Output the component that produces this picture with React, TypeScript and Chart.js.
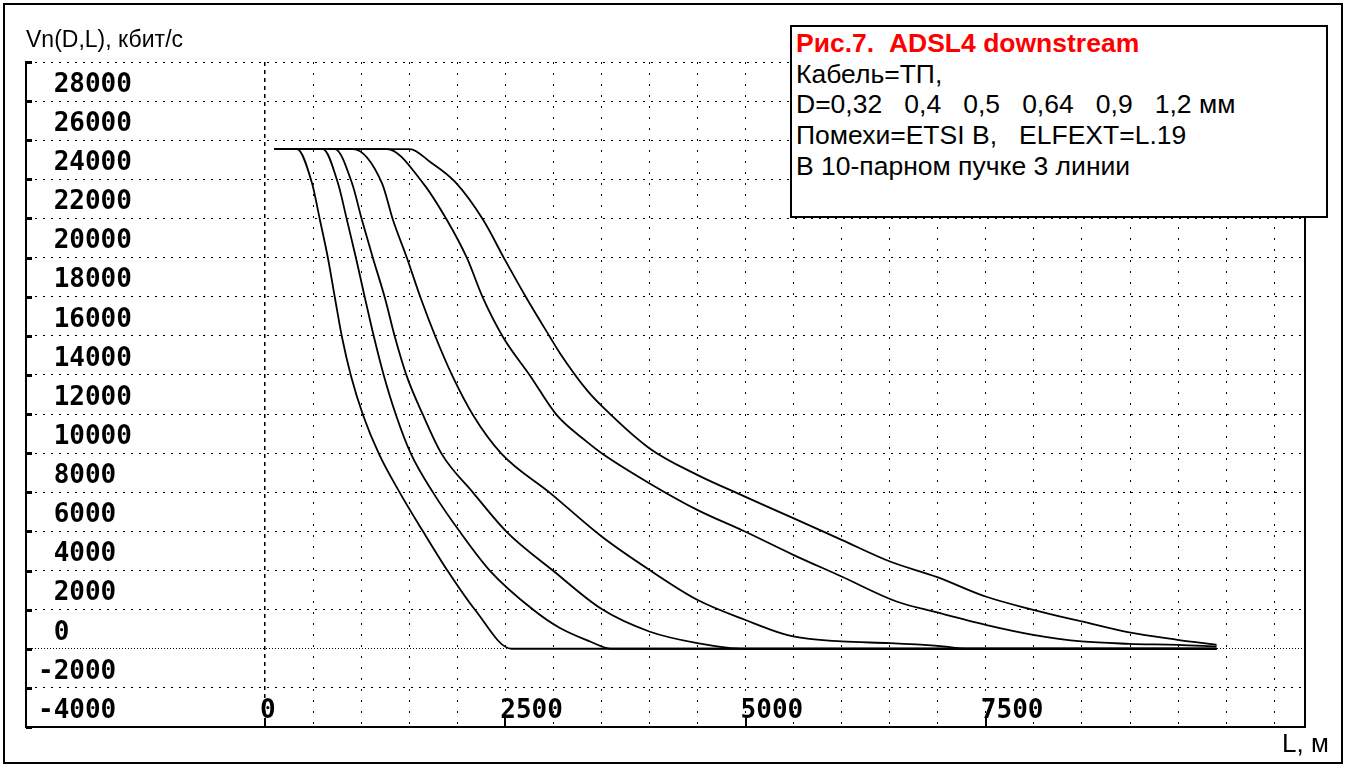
import React, { useEffect, useRef } from 'react';
import { Chart, registerables } from 'chart.js';

Chart.register(...registerables);

// ---- Axis ranges / ticks ----
const X_MIN = -2486;
const X_MAX = 10820;
const Y_MIN = -4000;
const Y_MAX = 30000;

const xGrid = [0, 500, 1000, 1500, 2000, 2500, 3000, 3500, 4000, 4500, 5000, 5500, 6000, 6500, 7000, 7500, 8000, 8500, 9000, 9500, 10000, 10500];
const xTickLabels = ['0', '', '', '', '', '2500', '', '', '', '', '5000', '', '', '', '', '7500', '', '', '', '', '', ''];

const yGrid = [-4000, -2000, 0, 2000, 4000, 6000, 8000, 10000, 12000, 14000, 16000, 18000, 20000, 22000, 24000, 26000, 28000, 30000];
const yTickLabels = ['-4000', '-2000', '0', '2000', '4000', '6000', '8000', '10000', '12000', '14000', '16000', '18000', '20000', '22000', '24000', '26000', '28000', ''];

// ---- Series: L (m) and Vn (kbit/s) for each diameter ----
const L_032 = [100, 333, 489, 572, 655, 728, 801, 895, 1020, 1186, 1404, 1647, 1900, 2185, 2566, 9900];
const V_032 = [25550, 25550, 23810, 21920, 19980, 17935, 15940, 13950, 11955, 9964, 7971, 5978, 3986, 1993, 0, 0];

const L_040 = [100, 603, 759, 853, 947, 1040, 1134, 1238, 1363, 1519, 1751, 2028, 2341, 2791, 3069, 3381, 3600, 9900];
const V_040 = [25550, 25550, 23810, 21920, 19980, 17935, 15940, 13950, 11955, 9964, 7971, 5978, 3986, 1993, 1058, 373, 0, 0];

const L_050 = [100, 728, 905, 1009, 1123, 1248, 1352, 1474, 1644, 1838, 2167, 2514, 2999, 3503, 3998, 4497, 4993, 9900];
const V_050 = [25550, 25550, 23810, 21920, 19980, 17935, 15940, 13950, 11955, 9964, 7971, 5978, 3986, 2028, 884, 291, 0, 0];

const L_064 = [100, 915, 1217, 1332, 1477, 1620, 1775, 1950, 2164, 2462, 2965, 3503, 3998, 4497, 4993, 5496, 5999, 6502, 7000, 7320, 9900];
const V_064 = [25550, 25550, 23810, 21920, 19980, 17935, 15940, 13950, 11955, 9964, 7971, 5738, 4037, 2504, 1482, 628, 373, 291, 150, 0, 0];

const L_090 = [100, 1269, 1644, 1893, 2101, 2268, 2476, 2760, 3034, 3347, 3503, 3998, 4497, 4993, 5496, 5999, 6571, 6994, 7497, 7992, 8496, 8991, 9494, 9900];
const V_090 = [25550, 25550, 23810, 21920, 19980, 17935, 15940, 13950, 11955, 10592, 9999, 8467, 7102, 5994, 4803, 3694, 2417, 1855, 1226, 715, 373, 255, 204, 120];

const L_120 = [100, 1508, 1716, 1976, 2271, 2497, 2722, 2965, 3069, 3347, 3503, 3998, 4497, 4993, 5496, 5999, 6502, 6994, 7497, 7992, 8496, 8991, 9494, 9900];
const V_120 = [25550, 25550, 24900, 23880, 21920, 19880, 17920, 15940, 15110, 13234, 12416, 10255, 8891, 7782, 6678, 5569, 4461, 3664, 2672, 1993, 1395, 833, 460, 204];

const seriesNames = ['0,32', '0,4', '0,5', '0,64', '0,9', '1,2'];
const seriesL = [L_032, L_040, L_050, L_064, L_090, L_120];
const seriesV = [V_032, V_040, V_050, V_064, V_090, V_120];

const monoFont = { family: "'DejaVu Sans Mono', monospace", size: 26, weight: 'bold' as const };
const sansFamily = "'Liberation Sans', Arial, sans-serif";

const marksPlugin = {
  id: 'axisMarks',
  afterDraw(chart: any) {
    const { ctx, chartArea, scales } = chart;
    const x = scales.x;
    const y = scales.y;
    ctx.save();
    ctx.fillStyle = '#000';
    yGrid.forEach((v) => {
      const py = Math.round(y.getPixelForValue(v));
      ctx.fillRect(chartArea.left, py - 1, 6, 3);
    });
    xGrid.forEach((v, i) => {
      if (!xTickLabels[i]) return;
      const px = Math.round(x.getPixelForValue(v));
      ctx.fillRect(px - 1, chartArea.bottom - 9, 2, 9);
    });
    ctx.restore();
  },
};

export default function App() {
  const canvasRef = useRef<HTMLCanvasElement | null>(null);

  useEffect(() => {
    if (!canvasRef.current) return;
    const datasets = seriesL.map((Ls, k) => ({
      label: seriesNames[k],
      data: Ls.map((l, i) => ({ x: l, y: seriesV[k][i] })),
      borderColor: '#000',
      borderWidth: 1.8,
      pointRadius: 0,
      fill: false,
      cubicInterpolationMode: 'monotone' as const,
      xAxisID: 'x',
      yAxisID: 'y',
    }));

    const chart = new Chart(canvasRef.current, {
      type: 'line',
      data: { datasets },
      plugins: [marksPlugin],
      options: {
        responsive: false,
        animation: false,
        devicePixelRatio: 1,
        layout: { padding: { left: 2, top: 62, right: 43, bottom: 42 } },
        plugins: { legend: { display: false }, tooltip: { enabled: false } },
        scales: {
          x: {
            type: 'linear',
            position: 'bottom',
            min: X_MIN,
            max: X_MAX,
            afterBuildTicks: (s: any) => {
              s.ticks = xGrid.map((v) => ({ value: v }));
            },
            grid: {
              color: (c: any) => (c.tick && c.tick.value === 0 ? 'rgba(0,0,0,0)' : '#000'),
              lineWidth: 1,
              drawTicks: false,
            },
            border: { display: true, color: '#000', width: 2, dash: [2, 9] },
            ticks: {
              mirror: true,
              padding: 0,
              align: 'start',
              labelOffset: -5,
              autoSkip: false,
              maxRotation: 0,
              minRotation: 0,
              font: monoFont,
              color: '#000',
              callback: (_v: any, i: number) => xTickLabels[i],
            },
          },
          x0: {
            type: 'linear',
            position: 'bottom',
            min: X_MIN,
            max: X_MAX,
            afterBuildTicks: (s: any) => {
              s.ticks = [{ value: 0 }];
            },
            grid: { color: '#000', lineWidth: 1.5, drawTicks: false },
            border: { display: false, dash: [4, 4] },
            ticks: { display: false },
          },
          y: {
            type: 'linear',
            position: 'left',
            min: Y_MIN,
            max: Y_MAX,
            afterBuildTicks: (s: any) => {
              s.ticks = yGrid.map((v) => ({ value: v }));
            },
            grid: {
              color: (c: any) => (c.tick && c.tick.value === 0 ? 'rgba(0,0,0,0)' : '#000'),
              lineWidth: 1,
              drawTicks: false,
            },
            border: { display: true, color: '#000', width: 2, dash: [2, 6] },
            ticks: {
              mirror: true,
              padding: 12,
              crossAlign: 'near',
              labelOffset: -16,
              autoSkip: false,
              font: monoFont,
              color: '#000',
              callback: (_v: any, i: number) => {
                const l = yTickLabels[i];
                return l && l[0] !== '-' ? ' ' + l : l;
              },
            },
          },
          y0: {
            type: 'linear',
            position: 'left',
            min: Y_MIN,
            max: Y_MAX,
            afterBuildTicks: (s: any) => {
              s.ticks = [{ value: 0 }];
            },
            grid: { color: '#000', lineWidth: 1, drawTicks: false },
            border: { display: false, dash: [1, 2] },
            ticks: { display: false },
          },
          yR: {
            type: 'linear',
            position: 'right',
            grid: { display: false, drawTicks: false },
            border: { display: true, color: '#000', width: 2 },
            ticks: { display: false },
          },
        },
      } as any,
    });
    return () => chart.destroy();
  }, []);

  return (
    <div style={{ position: 'fixed', left: 0, top: 0, width: 1348, height: 769, background: '#fff', overflow: 'hidden' }}>
      <canvas ref={canvasRef} width={1348} height={769} style={{ position: 'absolute', left: 0, top: 0 }} />
      <div
        style={{
          position: 'absolute', left: 3, top: 3, width: 1340, height: 761,
          boxSizing: 'border-box', border: '2px solid #000', pointerEvents: 'none',
        }}
      />
      <div
        style={{
          position: 'absolute', left: 26, top: 28, fontFamily: sansFamily, fontSize: 23,
          lineHeight: '23px', color: '#000', whiteSpace: 'pre',
        }}
      >
        Vn(D,L), кбит/с
      </div>
      <div
        style={{
          position: 'absolute', left: 1282, top: 730, fontFamily: sansFamily, fontSize: 26,
          lineHeight: '26px', color: '#000', whiteSpace: 'pre',
        }}
      >
        L, м
      </div>
      <div
        style={{
          position: 'absolute', left: 790, top: 25, width: 538, height: 193, boxSizing: 'border-box',
          border: '2px solid #000', background: '#fff', paddingLeft: 4, paddingTop: 1,
          fontFamily: sansFamily, fontSize: 26.5, lineHeight: '30.7px', color: '#000', whiteSpace: 'pre',
        }}
      >
        <div style={{ color: '#ff0000', fontWeight: 'bold' }}>Рис.7.  ADSL4 downstream</div>
        <div>Кабель=ТП,</div>
        <div>D=0,32   0,4   0,5   0,64   0,9   1,2 мм</div>
        <div>Помехи=ETSI B,   ELFEXT=L.19</div>
        <div>В 10-парном пучке 3 линии</div>
      </div>
    </div>
  );
}
